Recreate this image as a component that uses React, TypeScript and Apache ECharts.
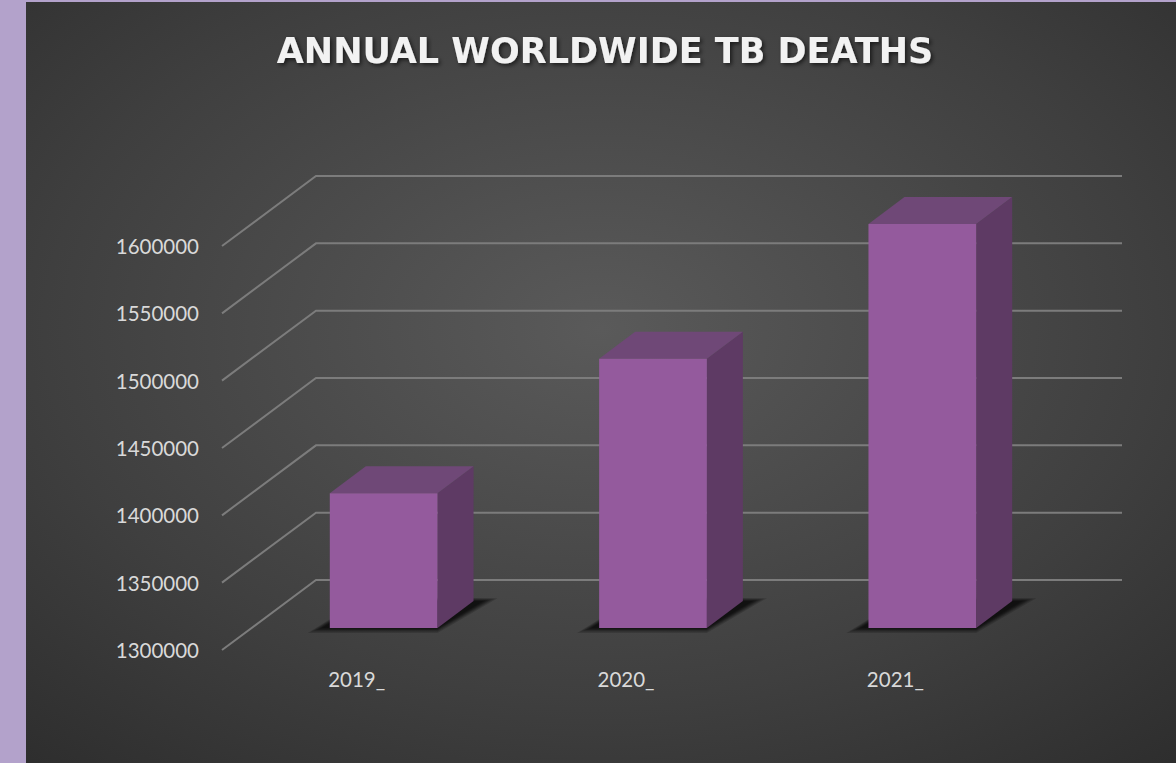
import React, { useEffect, useRef } from "react";
import * as echarts from "echarts";

const TITLE = "ANNUAL WORLDWIDE TB DEATHS";
const categories = ["2019_", "2020_", "2021_"];
const deaths = [1400000, 1500000, 1600000];
const yTicks = [1300000, 1350000, 1400000, 1450000, 1500000, 1550000, 1600000];
const Y_MIN = 1300000;
const Y_MAX = 1600000;
const Y_STEP = 50000;

const WALL_DX = 94;
const WALL_DY = -70;
const BAR_OX = 27;
const BAR_OY = -22;
const BAR_DX = 36;
const BAR_DY = -27;
const BAR_RATIO = 0.4;
const SHADOW_LAYERS = [14, 11, 8, 6, 4, 2, 0];

export default function App() {
  const ref = useRef<HTMLDivElement>(null);
  useEffect(() => {
    if (!ref.current) return;
    const chart = echarts.init(ref.current, null, { renderer: "svg" });
    const labelColor = "#d9d9d9";
    const option: any = {
      animation: false,
      backgroundColor: "#b3a2cb",
      graphic: [
        {
          type: "rect",
          z: -100,
          silent: true,
          shape: { x: 26, y: 2, width: 1150, height: 761 },
          style: {
            fill: new echarts.graphic.RadialGradient(0.5, 0.43, 0.88, [
              { offset: 0, color: "#5a5a5a" },
              { offset: 0.55, color: "#3f3f3f" },
              { offset: 1, color: "#262626" },
            ]),
          },
        },
        {
          type: "text",
          x: 605,
          y: 51,
          z: 10,
          style: {
            text: TITLE,
            fill: "#f2f2f2",
            font: "bold 35px 'DejaVu Sans'",
            align: "center",
            verticalAlign: "middle",
            textShadowColor: "rgba(0,0,0,0.6)",
            textShadowBlur: 4,
            textShadowOffsetX: 2,
            textShadowOffsetY: 2,
          },
        },
      ],
      grid: { left: 222, top: 246, width: 808, height: 404 },
      xAxis: {
        type: "category",
        data: categories,
        axisLine: { show: false },
        axisTick: { show: false },
        splitLine: { show: false },
        axisLabel: { color: labelColor, fontSize: 20.5, fontFamily: "Lato", margin: 18 },
      },
      yAxis: {
        type: "value",
        min: Y_MIN,
        max: Y_MAX,
        interval: Y_STEP,
        axisLine: { show: false },
        axisTick: { show: false },
        splitLine: { show: false },
        axisLabel: {
          color: labelColor,
          fontSize: 20.5,
          fontFamily: "Lato",
          margin: 23,
          formatter: (v: number) => String(v),
        },
      },
      series: [
        {
          type: "custom",
          name: "grid",
          silent: true,
          z: 1,
          data: yTicks.map((v) => [0, v]),
          renderItem: (params: any, api: any) => {
            const cs = params.coordSys;
            const y = api.coord([0, api.value(1)])[1];
            const left = cs.x;
            const right = cs.x + cs.width;
            return {
              type: "polyline",
              shape: {
                points: [
                  [left, y],
                  [left + WALL_DX, y + WALL_DY],
                  [right + WALL_DX - 2, y + WALL_DY],
                ],
              },
              style: { stroke: "#7c7c7c", lineWidth: 2, fill: null },
            };
          },
        },
        {
          type: "custom",
          name: "TB deaths",
          z: 3,
          data: deaths.map((v, i) => [i, v]),
          renderItem: (params: any, api: any) => {
            const i = api.value(0);
            const top = api.coord([i, api.value(1)]);
            const base = api.coord([i, Y_MIN]);
            const band = api.size([1, 0])[0];
            const w = band * BAR_RATIO;
            const x0 = top[0] - w / 2 + BAR_OX;
            const x1 = x0 + w;
            const yT = top[1] + BAR_OY;
            const yB = base[1] + BAR_OY;
            const shadows = SHADOW_LAYERS.map((e) => ({
              type: "polygon",
              shape: {
                points: [
                  [x0 - 8 - e, yB + e * 0.35],
                  [x1, yB + e * 0.35],
                  [x1 + BAR_DX + 10 + e, yB + BAR_DY - e * 0.2],
                  [x0 + BAR_DX, yB + BAR_DY - e * 0.3],
                ],
              },
              style: { fill: "rgba(0,0,0,0.16)" },
            }));
            return {
              type: "group",
              children: [
                ...shadows,
                {
                  type: "polygon",
                  shape: {
                    points: [
                      [x1, yT],
                      [x1, yB],
                      [x1 + BAR_DX, yB + BAR_DY],
                      [x1 + BAR_DX, yT + BAR_DY],
                    ],
                  },
                  style: { fill: "#5e3a64" },
                },
                {
                  type: "polygon",
                  shape: {
                    points: [
                      [x0, yT],
                      [x1, yT],
                      [x1 + BAR_DX, yT + BAR_DY],
                      [x0 + BAR_DX, yT + BAR_DY],
                    ],
                  },
                  style: { fill: "#6f4877" },
                },
                {
                  type: "rect",
                  shape: { x: x0, y: yT, width: w, height: yB - yT },
                  style: { fill: "#945a9d" },
                },
              ],
            };
          },
        },
      ],
    };
    chart.setOption(option);
    return () => chart.dispose();
  }, []);
  return (
    <div
      ref={ref}
      style={{ position: "fixed", left: 0, top: 0, width: 1176, height: 763 }}
    />
  );
}
